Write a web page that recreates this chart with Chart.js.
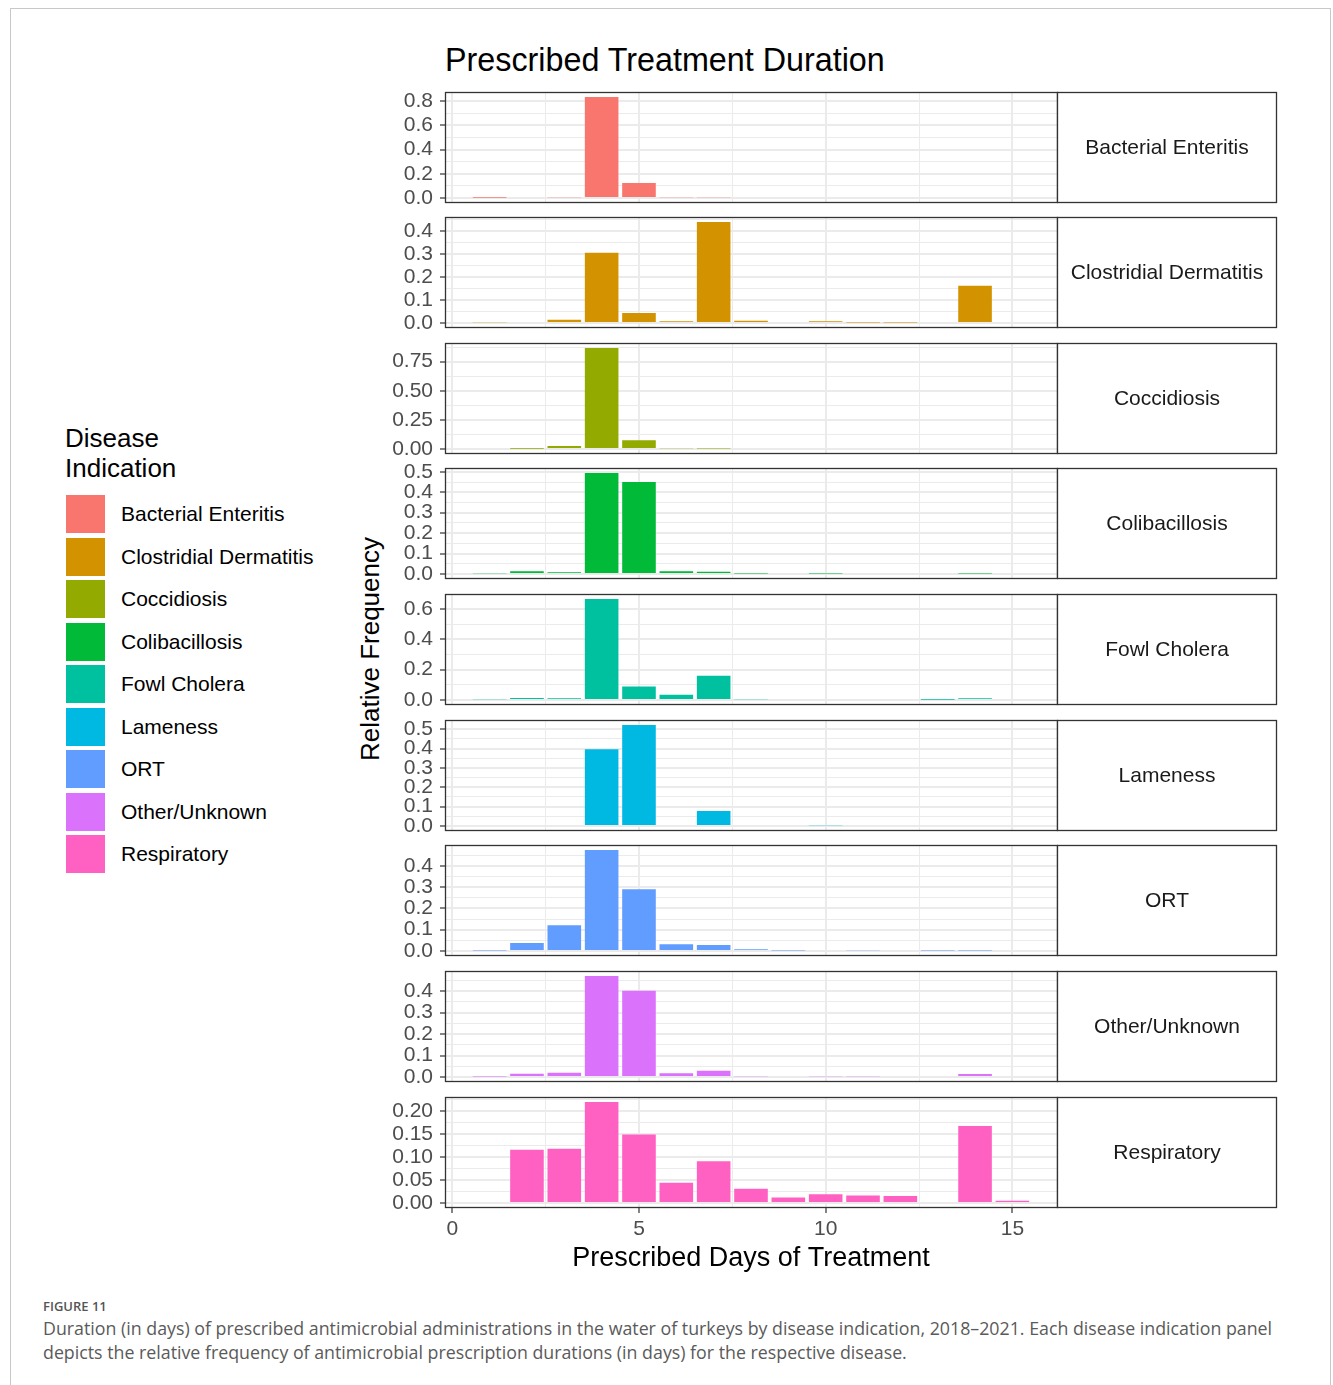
<!DOCTYPE html>
<html>
<head>
<meta charset="utf-8">
<script src="https://cdn.jsdelivr.net/npm/chart.js@4.4.0/dist/chart.umd.min.js"></script>
<style>
  html, body { margin: 0; padding: 0; background: #fff; }
  body { width: 1333px; height: 1385px; position: relative; overflow: hidden; font-family: "Liberation Sans", Arial, sans-serif; }
  .frame { position: absolute; left: 10px; top: 8px; width: 1321px; height: 1400px; border: 1px solid #c8c8c8; box-sizing: border-box; }
  canvas { position: absolute; }
  .title { position: absolute; left: 445px; top: 42px; font-size: 32.3px; line-height: 36px; color: #000; white-space: nowrap; }
  .ytitle { position: absolute; left: 370px; top: 649px; font-size: 26px; color: #000; white-space: nowrap; transform: translate(-50%, -50%) rotate(-90deg); }
  .legend-title { position: absolute; left: 65px; top: 423px; font-size: 26px; line-height: 30px; color: #000; }
  .key { position: absolute; left: 66px; width: 39px; height: 38px; }
  .key-label { position: absolute; left: 121px; font-size: 21px; line-height: 38px; color: #000; white-space: nowrap; }
  .fig { position: absolute; left: 43px; top: 1297px; font-family: "Open Sans", "Noto Sans", sans-serif; font-size: 13px; font-weight: 600; color: #555; }
  .caption { position: absolute; left: 43px; top: 1316px; width: 1280px; font-family: "Open Sans", "Noto Sans", sans-serif; font-size: 17.8px; line-height: 24px; color: #5a5a5a; white-space: nowrap; }
</style>
</head>
<body>
<div class="frame"></div>
<div class="title">Prescribed Treatment Duration</div>
<div class="ytitle">Relative Frequency</div>
<div class="legend-title">Disease<br>Indication</div>
<div id="legend"></div>
<div class="fig">FIGURE 11</div>
<div class="caption">Duration (in days) of prescribed antimicrobial administrations in the water of turkeys by disease indication, 2018–2021. Each disease indication panel<br>depicts the relative frequency of antimicrobial prescription durations (in days) for the respective disease.</div>
<div id="charts"></div>
<script>
// ---- data ----
const days = [1, 2, 3, 4, 5, 6, 7, 8, 9, 10, 11, 12, 13, 14, 15];
const diseases = ["Bacterial Enteritis", "Clostridial Dermatitis", "Coccidiosis", "Colibacillosis",
  "Fowl Cholera", "Lameness", "ORT", "Other/Unknown", "Respiratory"];
const colors = ["#F8766D", "#D39200", "#93AA00", "#00BA38", "#00C19F", "#00B9E3", "#619CFF", "#DB72FB", "#FF61C3"];

const bacterialEnteritis   = [0.002, 0.008, 0.005, 0.835, 0.123, 0.005, 0.005, null, null, null, null, null, null, null, null];
const clostridialDermatitis= [0.003, 0.004, 0.014, 0.305, 0.043, 0.007, 0.439, 0.010, 0.004, 0.007, 0.002, 0.002, null, 0.162, null];
const coccidiosis          = [null, 0.002, 0.026, 0.867, 0.074, 0.006, 0.003, null, null, null, null, null, null, null, null];
const colibacillosis       = [0.003, 0.013, 0.008, 0.494, 0.450, 0.013, 0.011, 0.002, null, 0.002, null, null, null, 0.002, null];
const fowlCholera          = [0.004, 0.013, 0.011, 0.665, 0.089, 0.035, 0.159, 0.004, null, null, null, null, 0.002, 0.011, null];
const lameness             = [null, null, null, 0.397, 0.522, null, 0.077, null, null, 0.003, null, null, null, null, null];
const ort                  = [0.002, 0.037, 0.121, 0.474, 0.290, 0.031, 0.028, 0.008, 0.002, 0.005, 0.003, null, 0.002, 0.002, null];
const otherUnknown         = [0.002, 0.015, 0.020, 0.471, 0.402, 0.017, 0.029, 0.003, 0.005, 0.003, 0.003, 0.005, null, 0.014, null];
const respiratory          = [null, 0.116, 0.118, 0.220, 0.149, 0.044, 0.091, 0.031, 0.012, 0.019, 0.016, 0.015, 0.002, 0.168, 0.005];
const seriesValues = [bacterialEnteritis, clostridialDermatitis, coccidiosis, colibacillosis,
  fowlCholera, lameness, ort, otherUnknown, respiratory];

const yTickLabels = [
  ["0.0", "0.2", "0.4", "0.6", "0.8"],
  ["0.0", "0.1", "0.2", "0.3", "0.4"],
  ["0.00", "0.25", "0.50", "0.75"],
  ["0.0", "0.1", "0.2", "0.3", "0.4", "0.5"],
  ["0.0", "0.2", "0.4", "0.6"],
  ["0.0", "0.1", "0.2", "0.3", "0.4", "0.5"],
  ["0.0", "0.1", "0.2", "0.3", "0.4"],
  ["0.0", "0.1", "0.2", "0.3", "0.4"],
  ["0.00", "0.05", "0.10", "0.15", "0.20"]
];
const xTickLabels = ["0", "5", "10", "15"];

// ---- layout ----
const FONT = "'Liberation Sans', Arial, sans-serif";
const panelTops = [92, 217, 343, 468, 594, 720, 845, 971, 1097];
const panelH = 111;
const canvasLeft = 380, canvasW = 910, yAxisW = 65, padRight = 233, stripW = 219;
const padTB = 8, xAxisH = 67;
const GRID = "#EBEBEB";

// legend
const legendEl = document.getElementById("legend");
diseases.forEach((d, i) => {
  const top = 495 + i * 42.5;
  const k = document.createElement("div");
  k.className = "key"; k.style.top = top + "px"; k.style.background = colors[i];
  legendEl.appendChild(k);
  const l = document.createElement("div");
  l.className = "key-label"; l.style.top = top + "px"; l.textContent = d;
  legendEl.appendChild(l);
});

function isMult(v, step) {
  if (typeof v !== "number") return false;
  const r = v / step;
  return Math.abs(r - Math.round(r)) < 1e-6;
}
function tickVal(c) {
  return (c && c.tick) ? c.tick.value : undefined;
}

const panelPlugin = {
  id: "panelFrame",
  afterDraw(chart, args, opts) {
    const { ctx, chartArea } = chart;
    const l = Math.round(chartArea.left) + 0.5, t = Math.round(chartArea.top) + 0.5;
    const r = Math.round(chartArea.right) + 0.5, b = Math.round(chartArea.bottom) - 0.5;
    ctx.save();
    ctx.strokeStyle = "#333333";
    ctx.lineWidth = 1.3;
    ctx.strokeRect(l, t, r - l, b - t);
    // strip
    ctx.fillStyle = "#ffffff";
    ctx.fillRect(r, t, stripW, b - t);
    ctx.strokeRect(r, t, stripW, b - t);
    ctx.fillStyle = "#1A1A1A";
    ctx.font = "21px " + FONT;
    ctx.textAlign = "center";
    ctx.textBaseline = "middle";
    ctx.fillText(opts.label, r + stripW / 2, (t + b) / 2 + 1);
    ctx.restore();
  }
};

const chartsEl = document.getElementById("charts");
diseases.forEach((name, i) => {
  const isLast = i === diseases.length - 1;
  const vals = seriesValues[i];
  const labels = yTickLabels[i];
  const major = Math.round((parseFloat(labels[1]) - parseFloat(labels[0])) * 1000) / 1000;
  const decimals = (labels[0].split(".")[1] || "").length;
  const dataMax = Math.max(...vals.filter(v => v !== null));
  const yMin = -0.05 * dataMax, yMax = 1.05 * dataMax;

  const canvas = document.createElement("canvas");
  const h = padTB + panelH + (isLast ? xAxisH : 0) + padTB;
  canvas.width = canvasW; canvas.height = h;
  canvas.style.left = canvasLeft + "px";
  canvas.style.top = (panelTops[i] - padTB) + "px";
  canvas.style.width = canvasW + "px"; canvas.style.height = h + "px";
  chartsEl.appendChild(canvas);

  new Chart(canvas, {
    type: "bar",
    data: {
      datasets: [{
        data: days.map((d, j) => ({ x: d, y: vals[j] })),
        backgroundColor: colors[i],
        borderWidth: 0,
        barPercentage: 0.9,
        categoryPercentage: 1.0
      }]
    },
    options: {
      responsive: false,
      animation: false,
      devicePixelRatio: 1,
      layout: { padding: { left: 0, right: padRight, top: padTB, bottom: padTB } },
      plugins: { legend: { display: false }, tooltip: { enabled: false }, panelFrame: { label: name } },
      scales: {
        x: {
          type: "linear",
          offset: false,
          min: -0.195, max: 16.195,
          border: { display: false },
          grid: {
            offset: false,
            color: GRID,
            lineWidth: c => isMult(tickVal(c), 5) ? 2 : 1,
            drawTicks: isLast,
            tickLength: 5,
            tickWidth: 1.2,
            tickColor: c => isMult(tickVal(c), 5) ? "#333333" : "rgba(0,0,0,0)"
          },
          ticks: {
            display: isLast,
            stepSize: 2.5,
            includeBounds: false,
            autoSkip: false,
            maxRotation: 0,
            padding: 4,
            color: "#4D4D4D",
            font: { family: FONT, size: 21 },
            callback: v => {
              const s = String(Math.round(v));
              return (isMult(v, 5) && xTickLabels.includes(s)) ? s : "";
            }
          },
          title: {
            display: isLast,
            text: "Prescribed Days of Treatment",
            color: "#000",
            font: { family: FONT, size: 27 },
            padding: { top: 0, bottom: 0 }
          },
          afterFit: s => {
            s.height = isLast ? xAxisH : 0;
            s.paddingLeft = 0; s.paddingRight = 0;
          }
        },
        y: {
          min: yMin, max: yMax,
          border: { display: false },
          grid: {
            offset: false,
            color: GRID,
            lineWidth: c => isMult(tickVal(c), major) ? 2 : 1,
            drawTicks: true,
            tickLength: 5,
            tickWidth: 1.2,
            tickColor: c => isMult(tickVal(c), major) ? "#333333" : "rgba(0,0,0,0)"
          },
          ticks: {
            stepSize: major / 2,
            includeBounds: false,
            autoSkip: false,
            maxTicksLimit: 50,
            padding: 7,
            color: "#4D4D4D",
            font: { family: FONT, size: 21 },
            callback: v => {
              if (!isMult(v, major)) return "";
              const s = (Math.round(v / major) * major).toFixed(decimals);
              return labels.includes(s) ? s : "";
            }
          },
          afterFit: s => {
            s.width = yAxisW;
            s.paddingTop = 0; s.paddingBottom = 0;
          }
        }
      }
    },
    plugins: [panelPlugin]
  });
});
</script>
</body>
</html>
